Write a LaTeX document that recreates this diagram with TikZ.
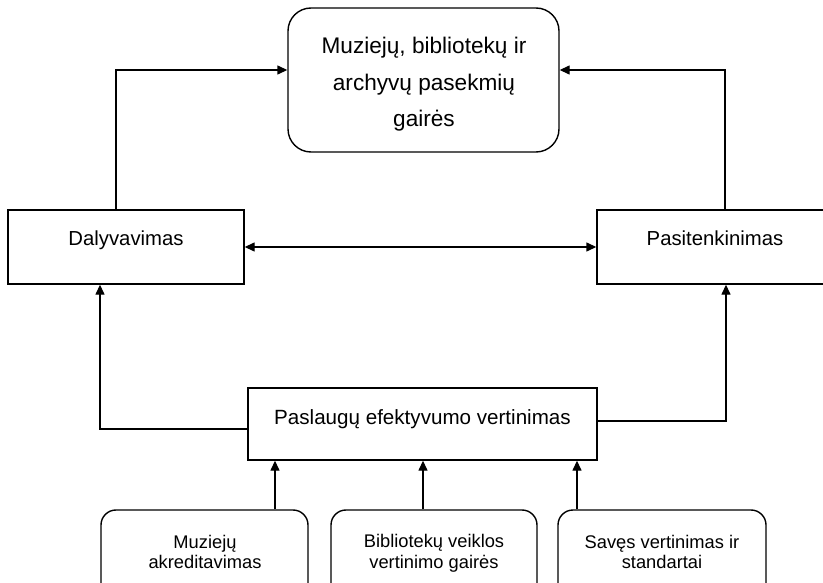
\documentclass[tikz,border=0pt]{standalone}
\usepackage{fontspec}
\setmainfont{Liberation Sans}
\usetikzlibrary{arrows.meta}
\begin{document}
\begin{tikzpicture}[x=1pt,y=-1pt,
  box/.style={draw=black, line width=1.4pt, inner sep=0pt},
  rbox/.style={box, rounded corners=#1},
  lbl/.style={inner sep=0pt, align=center, text=black},
  conn/.style={-{Triangle[length=10pt,width=9pt]}, line width=1.4pt, draw=black},
  conn2/.style={{Triangle[length=10pt,width=9pt]}-{Triangle[length=10pt,width=9pt]}, line width=1.4pt, draw=black}]
\useasboundingbox (0,0) rectangle (823,583);
\clip (0,0) rectangle (823,583);
\fill[white] (0,0) rectangle (823,583);
% boxes
\node[rbox=23pt, minimum width=271pt, minimum height=144pt] (top) at (423.5,80) {};
\node[box, minimum width=236pt, minimum height=74pt] (dal) at (126,247) {};
\node[box, minimum width=236pt, minimum height=74pt] (pas) at (715,247) {};
\node[box, minimum width=349pt, minimum height=72pt] (mid) at (422.5,424) {};
\node[rbox=15pt, minimum width=207pt, minimum height=88pt] (b1) at (204.5,554) {};
\node[rbox=15pt, minimum width=206pt, minimum height=88pt] (b2) at (434,554) {};
\node[rbox=15pt, minimum width=208pt, minimum height=88pt] (b3) at (662,554) {};
% texts
\node[lbl, font=\fontsize{22.6}{36.5}\selectfont] (topT) at (424,84.5) {Muziejų, bibliotekų ir\\archyvų pasekmių\\gairės};
\node[lbl, anchor=base, font=\fontsize{20.3}{24}\selectfont] (dalT) at (126,246) {Dalyvavimas};
\node[lbl, anchor=base, font=\fontsize{20.3}{24}\selectfont] (pasT) at (715,246) {Pasitenkinimas};
\node[lbl, anchor=base, font=\fontsize{20.6}{24}\selectfont] (midT) at (422.5,424) {Paslaugų efektyvumo vertinimas};
\node[lbl, font=\fontsize{18.3}{20.7}\selectfont] (b1T) at (205,552) {Muziejų\\akreditavimas};
\node[lbl, font=\fontsize{18.3}{20.7}\selectfont] (b2T) at (434,553) {Bibliotekų veiklos\\vertinimo gairės};
\node[lbl, font=\fontsize{18.3}{20.7}\selectfont] (b3T) at (662,552) {Savęs vertinimas ir\\standartai};
% connector bends
\coordinate (tl) at (116,70);
\coordinate (tr) at (725,70);
\coordinate (ml) at (100,429);
\coordinate (mr) at (726,421);
\coordinate (a1) at (275,0);
\coordinate (a2) at (423,0);
\coordinate (a3) at (577,0);
% connectors
\draw[conn] (dal.north -| tl) -- (tl) -- (tl -| top.west);
\draw[conn] (pas.north -| tr) -- (tr) -- (tr -| top.east);
\draw[conn2] (dal.east) -- (pas.west);
\draw[conn] (ml -| mid.west) -- (ml) -- (ml |- dal.south);
\draw[conn] (mr -| mid.east) -- (mr) -- (mr |- pas.south);
\draw[conn] (a1 |- b1.north) -- (a1 |- mid.south);
\draw[conn] (a2 |- b2.north) -- (a2 |- mid.south);
\draw[conn] (a3 |- b3.north) -- (a3 |- mid.south);
\end{tikzpicture}
\end{document}
